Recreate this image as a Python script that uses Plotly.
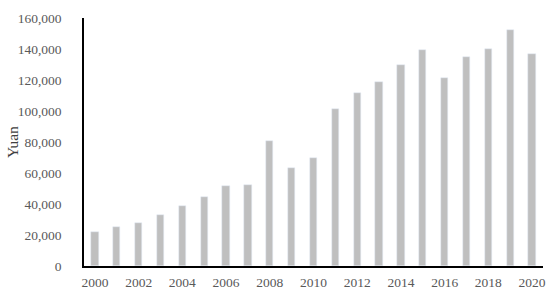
import plotly.graph_objects as go

years = list(range(2000, 2021))
values = [22100, 25000, 28000, 32700, 38700, 44500, 51600, 52500, 80800, 63200,
          69700, 101300, 111600, 118500, 129500, 139500, 121300, 135000, 140000,
          152500, 136600]
y_ticks = [0, 20000, 40000, 60000, 80000, 100000, 120000, 140000, 160000]
x_ticks = list(range(2000, 2021, 2))

fig = go.Figure()
fig.add_trace(go.Bar(x=years, y=values, marker_color="#bfbfbf", width=0.33))

fig.update_layout(
    width=550, height=298,
    margin=dict(l=84, r=7, t=18, b=32),
    plot_bgcolor="white", paper_bgcolor="white",
    font=dict(family="Liberation Serif", size=13.5, color="#595959"),
    showlegend=False,
    bargap=0,
)
fig.update_xaxes(
    range=[1999.5, 2020.5], tickvals=x_ticks, ticktext=[str(y) for y in x_ticks],
    showline=True, linecolor="black", linewidth=1.5, showgrid=False,
    ticks="", ticklabelstandoff=3, automargin=False,
)
fig.update_yaxes(
    range=[0, 160000], tickvals=y_ticks, tickformat=",d",
    showline=True, linecolor="black", linewidth=1.5, showgrid=False, zeroline=False,
    ticks="", ticklabelstandoff=18, automargin=False,
)
# y axis title placed as an annotation, left of the tick labels
fig.add_annotation(
    text="Yuan", textangle=-90, xref="paper", yref="paper",
    x=-72 / 459, y=0.5, xanchor="center", yanchor="middle", showarrow=False,
    font=dict(size=15.5, color="#404040"),
)

# remove the default page margin so the figure sits at the window's corner
fig.write_html("out.html", config={"displayModeBar": False},
               post_script="document.body.style.margin='0';")
